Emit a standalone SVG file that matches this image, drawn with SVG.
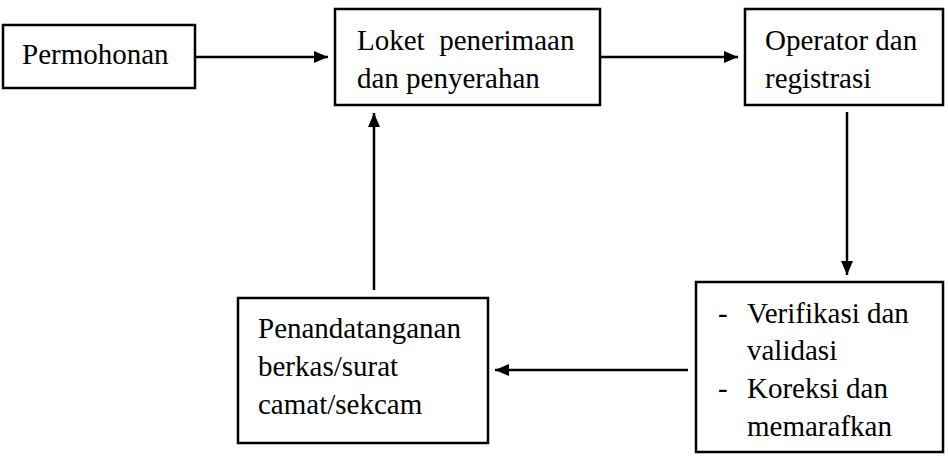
<svg xmlns="http://www.w3.org/2000/svg" width="948" height="462" viewBox="0 0 948 462">
<defs>
<style>
.box{fill:#fff;stroke:#000;stroke-width:2.5}
.t{font-family:'Liberation Serif','Times New Roman',Times,serif;font-size:29px;fill:#000}
.c{stroke:#000;stroke-width:2.5;fill:none}
</style>
<marker id="ah" viewBox="0 0 14 12" refX="14" refY="6" markerWidth="14" markerHeight="12" markerUnits="userSpaceOnUse" orient="auto">
<path d="M0,0 L14,6 L0,12 z" fill="#000"/>
</marker>
</defs>
<rect width="948" height="462" fill="#fff"/>
<g id="connectors">
<line class="c" x1="195" y1="57" x2="328" y2="57" marker-end="url(#ah)"/>
<line class="c" x1="600" y1="57" x2="738" y2="57" marker-end="url(#ah)"/>
<line class="c" x1="847" y1="112" x2="847" y2="275" marker-end="url(#ah)"/>
<line class="c" x1="688" y1="370" x2="495" y2="370" marker-end="url(#ah)"/>
<line class="c" x1="374" y1="290" x2="374" y2="113" marker-end="url(#ah)"/>
</g>
<g id="permohonan">
<rect class="box" x="3" y="25" width="192" height="63"/>
<text class="t" x="22" y="64" font-family="Liberation Serif">Permohonan</text>
</g>
<g id="loket">
<rect class="box" x="335" y="9" width="265" height="96"/>
<text class="t" x="357" y="50" xml:space="preserve">Loket  penerimaan</text>
<text class="t" x="357" y="88">dan penyerahan</text>
</g>
<g id="operator">
<rect class="box" x="745" y="9" width="198" height="96"/>
<text class="t" x="765" y="50">Operator dan</text>
<text class="t" x="765" y="88">registrasi</text>
</g>
<g id="verifikasi">
<rect class="box" x="696" y="282" width="247" height="170"/>
<text class="t" x="718" y="323">-</text>
<text class="t" x="747" y="323">Verifikasi dan</text>
<text class="t" x="747" y="360">validasi</text>
<text class="t" x="718" y="398">-</text>
<text class="t" x="747" y="398">Koreksi dan</text>
<text class="t" x="747" y="436">memarafkan</text>
</g>
<g id="penandatanganan">
<rect class="box" x="238" y="298" width="250" height="145"/>
<text class="t" x="258" y="338">Penandatanganan</text>
<text class="t" x="258" y="376">berkas/surat</text>
<text class="t" x="258" y="414">camat/sekcam</text>
</g>
</svg>
